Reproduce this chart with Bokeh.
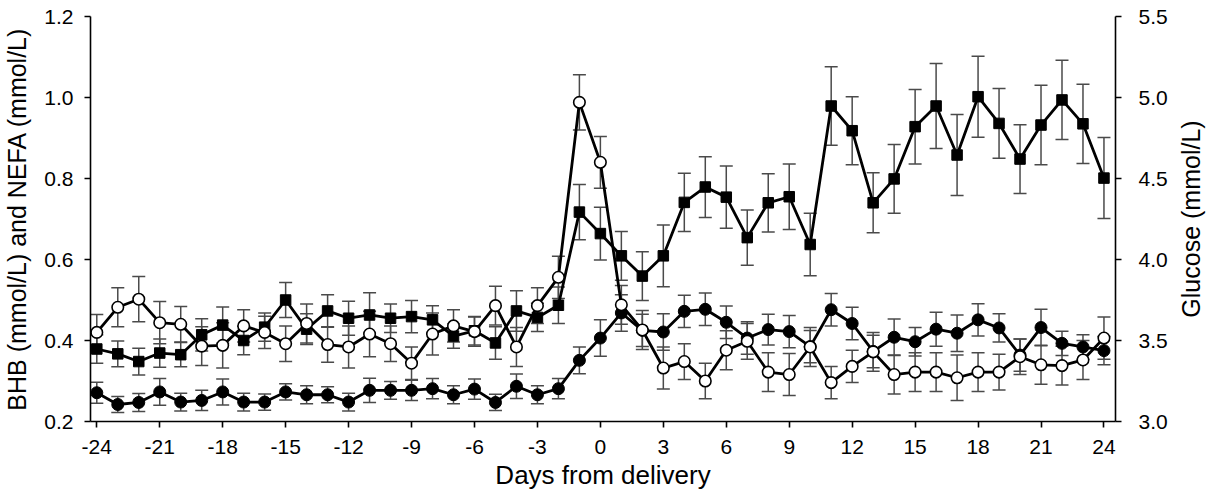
from bokeh.plotting import figure
from bokeh.layouts import row
from bokeh.models import (ColumnDataSource, Range1d, LinearAxis, FixedTicker,
                          PrintfTickFormatter, Whisker, TeeHead)
from bokeh.embed import file_html
from bokeh.resources import INLINE

days = [-24, -23, -22, -21, -20, -19, -18, -17, -16, -15, -14, -13, -12, -11, -10,
        -9, -8, -7, -6, -5, -4, -3, -2, -1, 0, 1, 2, 3, 4, 5, 6, 7, 8, 9, 10,
        11, 12, 13, 14, 15, 16, 17, 18, 19, 20, 21, 22, 23, 24]

nefa = [0.379, 0.367, 0.348, 0.369, 0.365, 0.414, 0.438, 0.400, 0.433, 0.500,
        0.428, 0.473, 0.455, 0.463, 0.455, 0.459, 0.451, 0.411, 0.424, 0.394,
        0.473, 0.457, 0.487, 0.717, 0.664, 0.609, 0.559, 0.609, 0.741, 0.779,
        0.754, 0.654, 0.740, 0.755, 0.637, 0.979, 0.918, 0.740, 0.799, 0.928,
        0.979, 0.858, 1.002, 0.936, 0.848, 0.932, 0.994, 0.935, 0.801]
nefa_se = [0.035, 0.032, 0.033, 0.035, 0.030, 0.040, 0.045, 0.035, 0.035, 0.043,
           0.038, 0.040, 0.042, 0.055, 0.035, 0.040, 0.035, 0.030, 0.035, 0.040,
           0.050, 0.035, 0.045, 0.068, 0.065, 0.060, 0.060, 0.076, 0.072, 0.075,
           0.077, 0.068, 0.072, 0.081, 0.077, 0.097, 0.084, 0.074, 0.085, 0.092,
           0.105, 0.100, 0.100, 0.086, 0.085, 0.098, 0.098, 0.098, 0.100]

bhb = [0.271, 0.242, 0.247, 0.273, 0.248, 0.252, 0.273, 0.248, 0.248, 0.273,
       0.266, 0.266, 0.248, 0.277, 0.277, 0.277, 0.281, 0.266, 0.280, 0.247,
       0.287, 0.266, 0.281, 0.351, 0.406, 0.468, 0.425, 0.421, 0.472, 0.477,
       0.445, 0.406, 0.427, 0.422, 0.385, 0.476, 0.442, 0.373, 0.408, 0.397,
       0.428, 0.418, 0.451, 0.431, 0.364, 0.432, 0.393, 0.384, 0.375]
bhb_se = [0.026, 0.020, 0.022, 0.033, 0.022, 0.025, 0.032, 0.022, 0.020, 0.020,
          0.022, 0.020, 0.022, 0.030, 0.022, 0.025, 0.025, 0.022, 0.025, 0.020,
          0.030, 0.022, 0.025, 0.033, 0.045, 0.045, 0.040, 0.045, 0.040, 0.040,
          0.040, 0.040, 0.038, 0.040, 0.040, 0.040, 0.040, 0.040, 0.045, 0.035,
          0.042, 0.045, 0.040, 0.035, 0.040, 0.045, 0.030, 0.030, 0.035]

glucose = [3.55, 3.705, 3.755, 3.61, 3.60, 3.465, 3.47, 3.59, 3.55, 3.48,
           3.605, 3.475, 3.46, 3.54, 3.48, 3.36, 3.54, 3.59, 3.555, 3.715,
           3.46, 3.715, 3.89, 4.97, 4.60, 3.72, 3.565, 3.33, 3.37, 3.25,
           3.44, 3.495, 3.305, 3.29, 3.46, 3.24, 3.34, 3.43, 3.29, 3.305,
           3.305, 3.27, 3.305, 3.305, 3.40, 3.35, 3.345, 3.38, 3.515]
glucose_se = [0.11, 0.12, 0.14, 0.13, 0.11, 0.12, 0.14, 0.10, 0.10, 0.11,
              0.12, 0.11, 0.13, 0.14, 0.11, 0.10, 0.13, 0.10, 0.09, 0.12,
              0.12, 0.11, 0.13, 0.17, 0.16, 0.12, 0.12, 0.13, 0.11, 0.11,
              0.12, 0.11, 0.12, 0.13, 0.12, 0.10, 0.10, 0.12, 0.12, 0.12,
              0.12, 0.14, 0.12, 0.11, 0.11, 0.12, 0.12, 0.12, 0.13]

x_ticks = [-24, -21, -18, -15, -12, -9, -6, -3, 0, 3, 6, 9, 12, 15, 18, 21, 24]
left_ticks = [0.2, 0.4, 0.6, 0.8, 1.0, 1.2]
right_ticks = [3.0, 3.5, 4.0, 4.5, 5.0, 5.5]

x_title = "Days from delivery"
left_title = "BHB (mmol/L) and NEFA (mmol/L)"
right_title = "Glucose (mmol/L)"

FONT = "Liberation Sans"

def src(vals, se):
    return ColumnDataSource(dict(x=days, y=vals,
                                 lo=[v - s for v, s in zip(vals, se)],
                                 hi=[v + s for v, s in zip(vals, se)]))

s_nefa = src(nefa, nefa_se)
s_bhb = src(bhb, bhb_se)
s_glu = src(glucose, glucose_se)

p = figure(width=1170, height=492, output_backend="svg", toolbar_location=None,
           x_range=Range1d(-24.3, 24.55), y_range=Range1d(0.2, 1.2),
           min_border_left=86, min_border_right=52, min_border_top=16,
           min_border_bottom=69)
p.extra_y_ranges = {"glu": Range1d(3.0, 5.5)}
p.outline_line_color = None
p.xgrid.visible = False
p.ygrid.visible = False
p.background_fill_color = "white"
p.border_fill_color = "white"

right = LinearAxis(y_range_name="glu")
p.add_layout(right, "right")
left = p.yaxis[0]

p.xaxis.ticker = FixedTicker(ticks=x_ticks)
p.xaxis.formatter = PrintfTickFormatter(format="%d")
left.ticker = FixedTicker(ticks=left_ticks)
left.formatter = PrintfTickFormatter(format="%.1f")
right.ticker = FixedTicker(ticks=right_ticks)
right.formatter = PrintfTickFormatter(format="%.1f")

p.xaxis.axis_label = x_title
left.axis_label = left_title

for ax in p.axis:
    ax.axis_line_color = "black"
    ax.axis_line_width = 1.6
    ax.major_tick_line_color = "black"
    ax.major_tick_line_width = 1.6
    ax.major_tick_out = 6
    ax.major_tick_in = 0
    ax.minor_tick_line_color = None
    ax.major_label_text_font = FONT
    ax.major_label_text_font_size = "21px"
    ax.major_label_text_color = "black"
    ax.axis_label_text_font = FONT
    ax.axis_label_text_font_size = "25px"
    ax.axis_label_text_font_style = "normal"
    ax.axis_label_text_color = "black"
    ax.major_label_standoff = 11
    ax.axis_label_standoff = 10

p.xaxis.major_label_standoff = 12
p.xaxis.axis_label_standoff = 3
p.xaxis.axis_label_text_font_size = "26px"
right.major_label_standoff = 17

EB = "#4a4a4a"
for s, rn in [(s_nefa, "default"), (s_bhb, "default"), (s_glu, "glu")]:
    w = Whisker(source=s, base="x", upper="hi", lower="lo", dimension="height",
                line_color=EB, line_width=1.5, level="underlay",
                y_range_name=rn,
                upper_head=TeeHead(size=13, line_color=EB, line_width=1.5),
                lower_head=TeeHead(size=13, line_color=EB, line_width=1.5))
    p.add_layout(w)

p.line("x", "y", source=s_nefa, line_color="black", line_width=2.8)
p.line("x", "y", source=s_bhb, line_color="black", line_width=2.8)
p.line("x", "y", source=s_glu, line_color="black", line_width=2.8, y_range_name="glu")

p.scatter("x", "y", source=s_nefa, marker="square", size=10.5, fill_color="black",
          line_color="black", line_width=1)
p.scatter("x", "y", source=s_bhb, marker="circle", size=12, fill_color="black",
          line_color="black", line_width=1)
p.scatter("x", "y", source=s_glu, marker="circle", size=11.5, fill_color="white",
          line_color="black", line_width=1.6, y_range_name="glu")

# narrow strip carrying the right-hand title so that it reads bottom-to-top
q = figure(width=37, height=492, output_backend="svg", toolbar_location=None,
           x_range=Range1d(0, 1), y_range=Range1d(3.0, 5.5),
           x_axis_location=None, min_border_left=34, min_border_right=0,
           min_border_top=16, min_border_bottom=69)
q.outline_line_color = None
q.xgrid.visible = False
q.ygrid.visible = False
q.background_fill_color = "white"
q.border_fill_color = "white"
ya = q.yaxis[0]
ya.ticker = FixedTicker(ticks=[])
ya.axis_line_color = None
ya.major_tick_out = 0
ya.major_tick_in = 0
ya.minor_tick_line_color = None
ya.major_tick_line_color = None
ya.major_label_standoff = 0
ya.axis_label = right_title
ya.axis_label_standoff = 0
ya.axis_label_text_font = FONT
ya.axis_label_text_font_size = "25px"
ya.axis_label_text_font_style = "normal"
ya.axis_label_text_color = "black"

layout = row(p, q)
open("out.html", "w").write(file_html(layout, INLINE))
